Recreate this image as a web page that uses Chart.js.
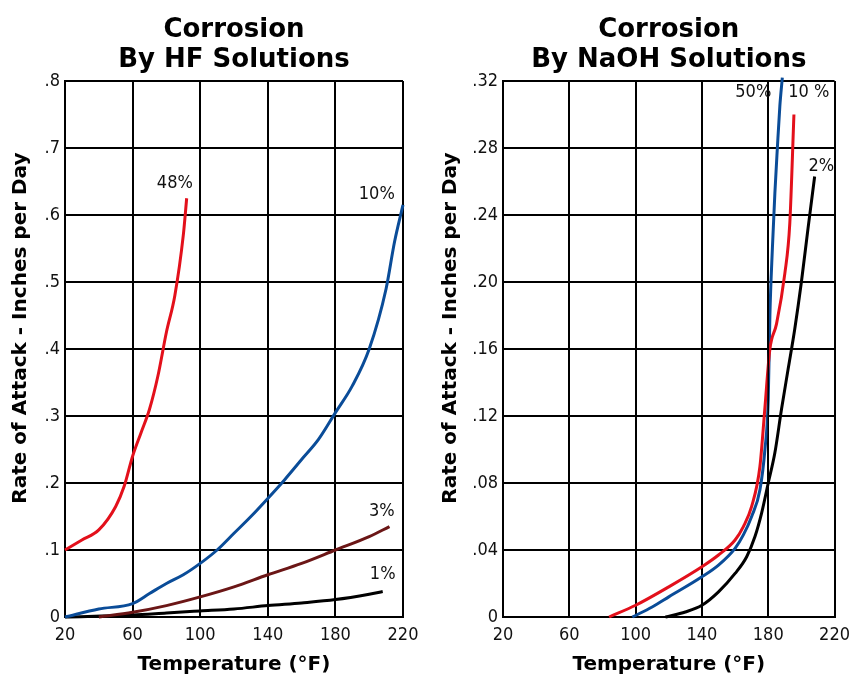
<!DOCTYPE html>
<html lang="en">
<head>
  <meta charset="UTF-8">
  <title>Corrosion by HF and NaOH Solutions</title>
  <script src="https://cdn.jsdelivr.net/npm/chart.js"></script>
  <style>
    body {
      margin: 0;
      background: #fff;
      width: 858px;
      height: 678px;
      display: flex;
    }
    .box {
      position: relative;
      height: 678px;
    }
  </style>
</head>
<body>
  <div class="box" style="width:430px"><canvas id="hf-chart"></canvas></div>
  <div class="box" style="width:428px"><canvas id="naoh-chart"></canvas></div>

  <script>
    // --- HF chart data (temperature °F, inches per day) ---
    const hfXTicks = [20, 60, 100, 140, 180, 220];
    const hfYTicks = ['0', '.1', '.2', '.3', '.4', '.5', '.6', '.7', '.8'];
    const hf48 = [[20,0.1],[30,0.115],[40,0.13],[50,0.165],[55,0.195],[60,0.24],[65,0.275],[70,0.31],[75,0.36],[80,0.425],[85,0.48],[90,0.57],[92,0.625]];
    const hf10 = [[20,0],[40,0.012],[60,0.02],[70,0.035],[80,0.05],[90,0.063],[100,0.08],[110,0.1],[120,0.125],[130,0.15],[140,0.177],[150,0.205],[160,0.235],[170,0.265],[180,0.305],[190,0.345],[200,0.4],[210,0.49],[215,0.56],[220,0.615]];
    const hf3 = [[40,0],[60,0.007],[80,0.017],[100,0.03],[120,0.045],[140,0.063],[160,0.08],[180,0.1],[200,0.12],[212,0.135]];
    const hf1 = [[20,0],[60,0.003],[80,0.006],[100,0.009],[120,0.012],[140,0.017],[160,0.021],[180,0.026],[200,0.034],[208,0.038]];
    const hfLabels = [['48%', 85, 0.648], ['10%', 204.5, 0.631], ['3%', 207.5, 0.157], ['1%', 208, 0.064]];

    // --- NaOH chart data ---
    const naohXTicks = [20, 60, 100, 140, 180, 220];
    const naohYTicks = ['0', '.04', '.08', '.12', '.16', '.20', '.24', '.28', '.32'];
    const naoh50 = [[98,0],[110,0.006],[120,0.012],[140,0.024],[150,0.031],[160,0.041],[165,0.049],[170,0.06],[175,0.076],[178,0.1],[180,0.13],[181,0.18],[182.5,0.22],[184,0.253],[185.5,0.28],[187,0.305],[188.5,0.322]];
    const naoh10 = [[84,0],[100,0.007],[120,0.018],[140,0.03],[150,0.037],[160,0.046],[165,0.054],[170,0.066],[175,0.09],[178,0.125],[181,0.16],[185,0.175],[190,0.205],[193,0.235],[195.5,0.3]];
    const naoh2 = [[118,0],[130,0.003],[140,0.007],[150,0.015],[160,0.026],[167,0.036],[172,0.048],[176,0.062],[180,0.08],[184,0.098],[188,0.124],[192,0.148],[196,0.172],[200,0.2],[204,0.232],[208,0.263]];
    const naoh50Stem = [[180,0.08],[180,0.301]];
    const naohLabels = [['50%', 171, 0.313], ['10 %', 204.5, 0.313], ['2%', 212, 0.269]];

    const RED = '#e3101b';
    const BLUE = '#0a4c98';
    const BROWN = '#6b1616';
    const BLACK = '#000000';
    const tickFont = "'DejaVu Sans Condensed', 'Liberation Sans Narrow', sans-serif";
    const boldFont = "'DejaVu Sans', Verdana, sans-serif";

    function pts(arr) {
      return arr.map(p => ({ x: p[0], y: p[1] }));
    }

    function series(arr, color, width, smooth) {
      return {
        data: pts(arr),
        borderColor: color,
        borderWidth: width,
        pointRadius: 0,
        cubicInterpolationMode: smooth ? 'monotone' : 'default',
        tension: 0,
        fill: false
      };
    }

    // writes the percentage names next to the curves
    const curveLabels = {
      id: 'curveLabels',
      afterDatasetsDraw(chart, args, opts) {
        const { ctx, scales } = chart;
        ctx.save();
        ctx.font = '18px ' + tickFont;
        ctx.fillStyle = '#111';
        ctx.textAlign = 'center';
        ctx.textBaseline = 'middle';
        opts.items.forEach(([txt, x, y]) => {
          ctx.fillText(txt, scales.x.getPixelForValue(x), scales.y.getPixelForValue(y));
        });
        ctx.restore();
      }
    };

    function makeChart(id, title, datasets, yMax, yStep, yLabels, xTicks, labels, yWidth, rightPad) {
      const ctx = document.getElementById(id).getContext('2d');
      return new Chart(ctx, {
        type: 'line',
        data: { datasets },
        plugins: [curveLabels],
        options: {
          responsive: true,
          maintainAspectRatio: false,
          animation: false,
          clip: false,
          layout: { padding: { left: 0, right: rightPad, top: 0, bottom: 0 } },
          plugins: {
            legend: { display: false },
            tooltip: { enabled: false },
            title: {
              display: true,
              fullSize: false,
              text: title,
              color: '#000',
              font: { family: boldFont, size: 26, weight: 'bold', lineHeight: '30px' },
              padding: { top: 15, bottom: 6 }
            },
            curveLabels: { items: labels }
          },
          scales: {
            x: {
              type: 'linear',
              min: xTicks[0],
              max: xTicks[xTicks.length - 1],
              afterBuildTicks: s => { s.ticks = xTicks.map(v => ({ value: v })); },
              afterFit: s => { s.height = 61; },
              grid: { color: BLACK, lineWidth: 2, drawTicks: false },
              border: { color: BLACK, width: 2 },
              ticks: { color: '#111', padding: 8, maxRotation: 0, font: { family: tickFont, size: 18 } },
              title: {
                display: true,
                text: 'Temperature (°F)',
                color: '#000',
                font: { family: boldFont, size: 20, weight: 'bold', lineHeight: 1.2 },
                padding: { top: 0, bottom: 1 }
              }
            },
            y: {
              min: 0,
              max: yMax,
              afterFit: s => { s.width = yWidth; },
              grid: { color: BLACK, lineWidth: 2, drawTicks: false },
              border: { color: BLACK, width: 2 },
              ticks: {
                stepSize: yStep,
                color: '#111',
                padding: 5,
                font: { family: tickFont, size: 18 },
                callback: (v, i) => yLabels[i]
              },
              title: {
                display: true,
                text: '      Rate of Attack - Inches per Day',
                color: '#000',
                font: { family: boldFont, size: 20, weight: 'bold', lineHeight: 1.2 },
                padding: { top: 9, bottom: 0 }
              }
            }
          }
        }
      });
    }

    makeChart('hf-chart', ['Corrosion', 'By HF Solutions'], [
      series(hf48, RED, 3, true),
      series(hf10, BLUE, 3, true),
      series(hf3, BROWN, 3, true),
      series(hf1, BLACK, 3, true)
    ], 0.8, 0.1, hfYTicks, hfXTicks, hfLabels, 65, 27);

    makeChart('naoh-chart', ['Corrosion', 'By NaOH Solutions'], [
      series(naoh50Stem, BLACK, 1.5, false),
      series(naoh2, BLACK, 3, true),
      series(naoh10, RED, 3, true),
      series(naoh50, BLUE, 3, true)
    ], 0.32, 0.04, naohYTicks, naohXTicks, naohLabels, 73, 20);
  </script>
</body>
</html>
